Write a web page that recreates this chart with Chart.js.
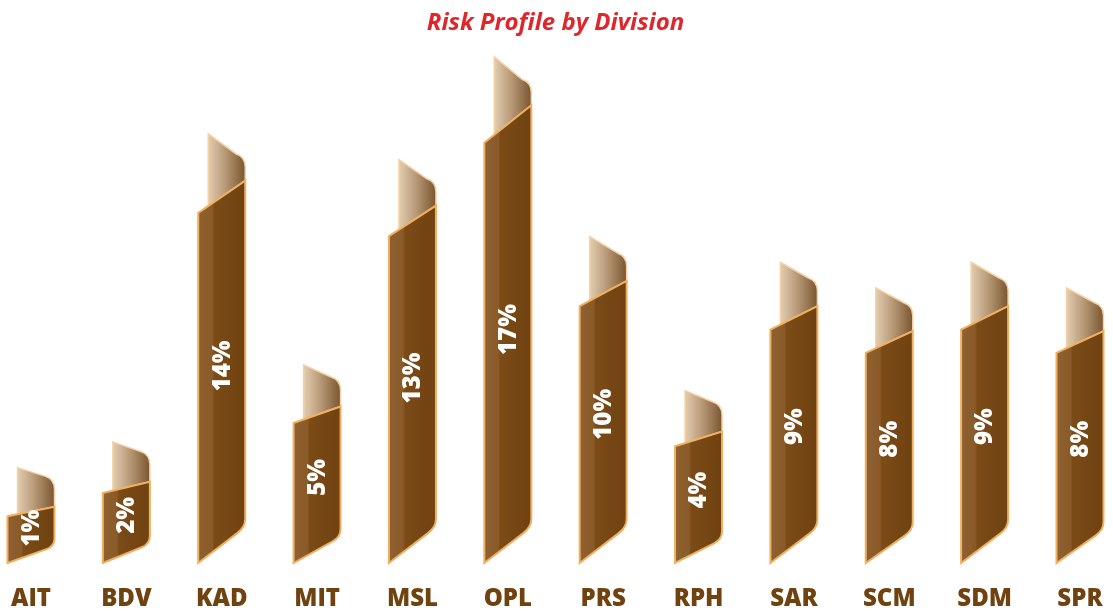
<!DOCTYPE html>
<html>
<head>
<meta charset="utf-8">
<script src="https://cdn.jsdelivr.net/npm/chart.js@4/dist/chart.umd.min.js"></script>
<style>
    html, body { margin: 0; padding: 0; background: #fff; }
    #wrap { width: 1113px; height: 612px; position: relative; }
</style>
</head>
<body>
<div id="wrap"><canvas id="risk-chart"></canvas></div>
<script>
const divisions = ["AIT", "BDV", "KAD", "MIT", "MSL", "OPL", "PRS", "RPH", "SAR", "SCM", "SDM", "SPR"];
const riskShare = [1, 2, 14, 5, 13, 17, 10, 4, 9, 8, 9, 8];

const chartTitle = "Risk Profile by Division";

// draws each bar as a curled ribbon: a light folded tab behind a slanted body
const ribbonPlugin = {
    id: 'ribbons',
    afterDatasetsDraw(chart) {
        const ctx = chart.ctx;
        const meta = chart.getDatasetMeta(0);
        const bottom = chart.chartArea.bottom;
        const values = chart.data.datasets[0].data;

        meta.data.forEach((bar, i) => {
            const w = 47;
            const L = bar.x - w / 2;
            const R = bar.x + w / 2;
            const top = bar.y;
            const h = bottom - top;
            const rise = 6 + 0.075 * h;
            const botRise = Math.min(36, 12 + 0.1 * h);
            const curlH = 44 + 0.1 * h;
            const drop = 4 + 0.5 * rise;

            ctx.save();

            // folded tab
            const cl = L + 10;
            const cTop = top - curlH;
            ctx.beginPath();
            ctx.moveTo(cl, cTop);
            ctx.lineTo(R - 9, cTop + drop);
            ctx.quadraticCurveTo(R, cTop + drop + 3, R, cTop + drop + 13);
            ctx.lineTo(R, top - rise);
            ctx.lineTo(cl, top - rise * (10 / w));
            ctx.closePath();
            const cg = ctx.createLinearGradient(cl, 0, R, 0);
            cg.addColorStop(0, '#e2cdb0');
            cg.addColorStop(0.45, '#b89a78');
            cg.addColorStop(1, '#7a5630');
            ctx.fillStyle = cg;
            ctx.fill();
            ctx.lineWidth = 1.5;
            ctx.strokeStyle = '#f4d2a6';
            ctx.stroke();

            // slanted body
            ctx.beginPath();
            ctx.moveTo(L, top);
            ctx.lineTo(R, top - rise);
            ctx.lineTo(R, bottom - botRise - 8);
            ctx.quadraticCurveTo(R, bottom - botRise, R - 8, bottom - botRise + 8 * botRise / w);
            ctx.lineTo(L, bottom);
            ctx.closePath();
            const bg = ctx.createLinearGradient(L, 0, R, 0);
            bg.addColorStop(0, '#8f6132');
            bg.addColorStop(0.3, '#8a5b28');
            bg.addColorStop(0.34, '#7b4b17');
            bg.addColorStop(1, '#6f4211');
            ctx.fillStyle = bg;
            ctx.fill();
            ctx.lineWidth = 2;
            ctx.strokeStyle = '#f0b062';
            ctx.stroke();

            // value label
            const cy = (top - rise / 2 + bottom - botRise / 2) / 2 - 5;
            ctx.translate(bar.x, cy);
            ctx.rotate(-Math.PI / 2);
            ctx.textAlign = 'center';
            ctx.textBaseline = 'middle';
            ctx.fillStyle = '#ffffff';
            ctx.font = '800 24px "Open Sans"';
            ctx.fillText(values[i] + '%', 0, 1);

            ctx.restore();
        });
    }
};

new Chart(document.getElementById('risk-chart'), {
    type: 'bar',
    data: {
        labels: divisions,
        datasets: [{
            label: chartTitle,
            data: riskShare,
            backgroundColor: 'rgba(0,0,0,0)',
            borderWidth: 0
        }]
    },
    options: {
        responsive: true,
        maintainAspectRatio: false,
        animation: false,
        layout: { padding: { left: 31, right: 33, top: 0, bottom: 0 } },
        plugins: {
            legend: { display: false },
            tooltip: { enabled: false },
            title: {
                display: true,
                text: chartTitle,
                color: '#e0262b',
                font: { family: '"Open Sans"', size: 24, weight: 'bold', style: 'italic', lineHeight: 1.2 },
                padding: { top: 9, bottom: 35 }
            }
        },
        scales: {
            x: {
                offset: false,
                grid: { display: false, drawTicks: false },
                border: { display: false },
                ticks: {
                    color: '#6f4210',
                    padding: 22,
                    font: { family: '"Open Sans"', size: 24, weight: '800', lineHeight: 1.2 }
                },
                afterFit(scale) {
                    scale.height = 49;
                    scale.paddingLeft = 0;
                    scale.paddingRight = 0;
                }
            },
            y: {
                display: false,
                min: -1,
                max: 20
            }
        }
    },
    plugins: [ribbonPlugin]
});
</script>
</body>
</html>
